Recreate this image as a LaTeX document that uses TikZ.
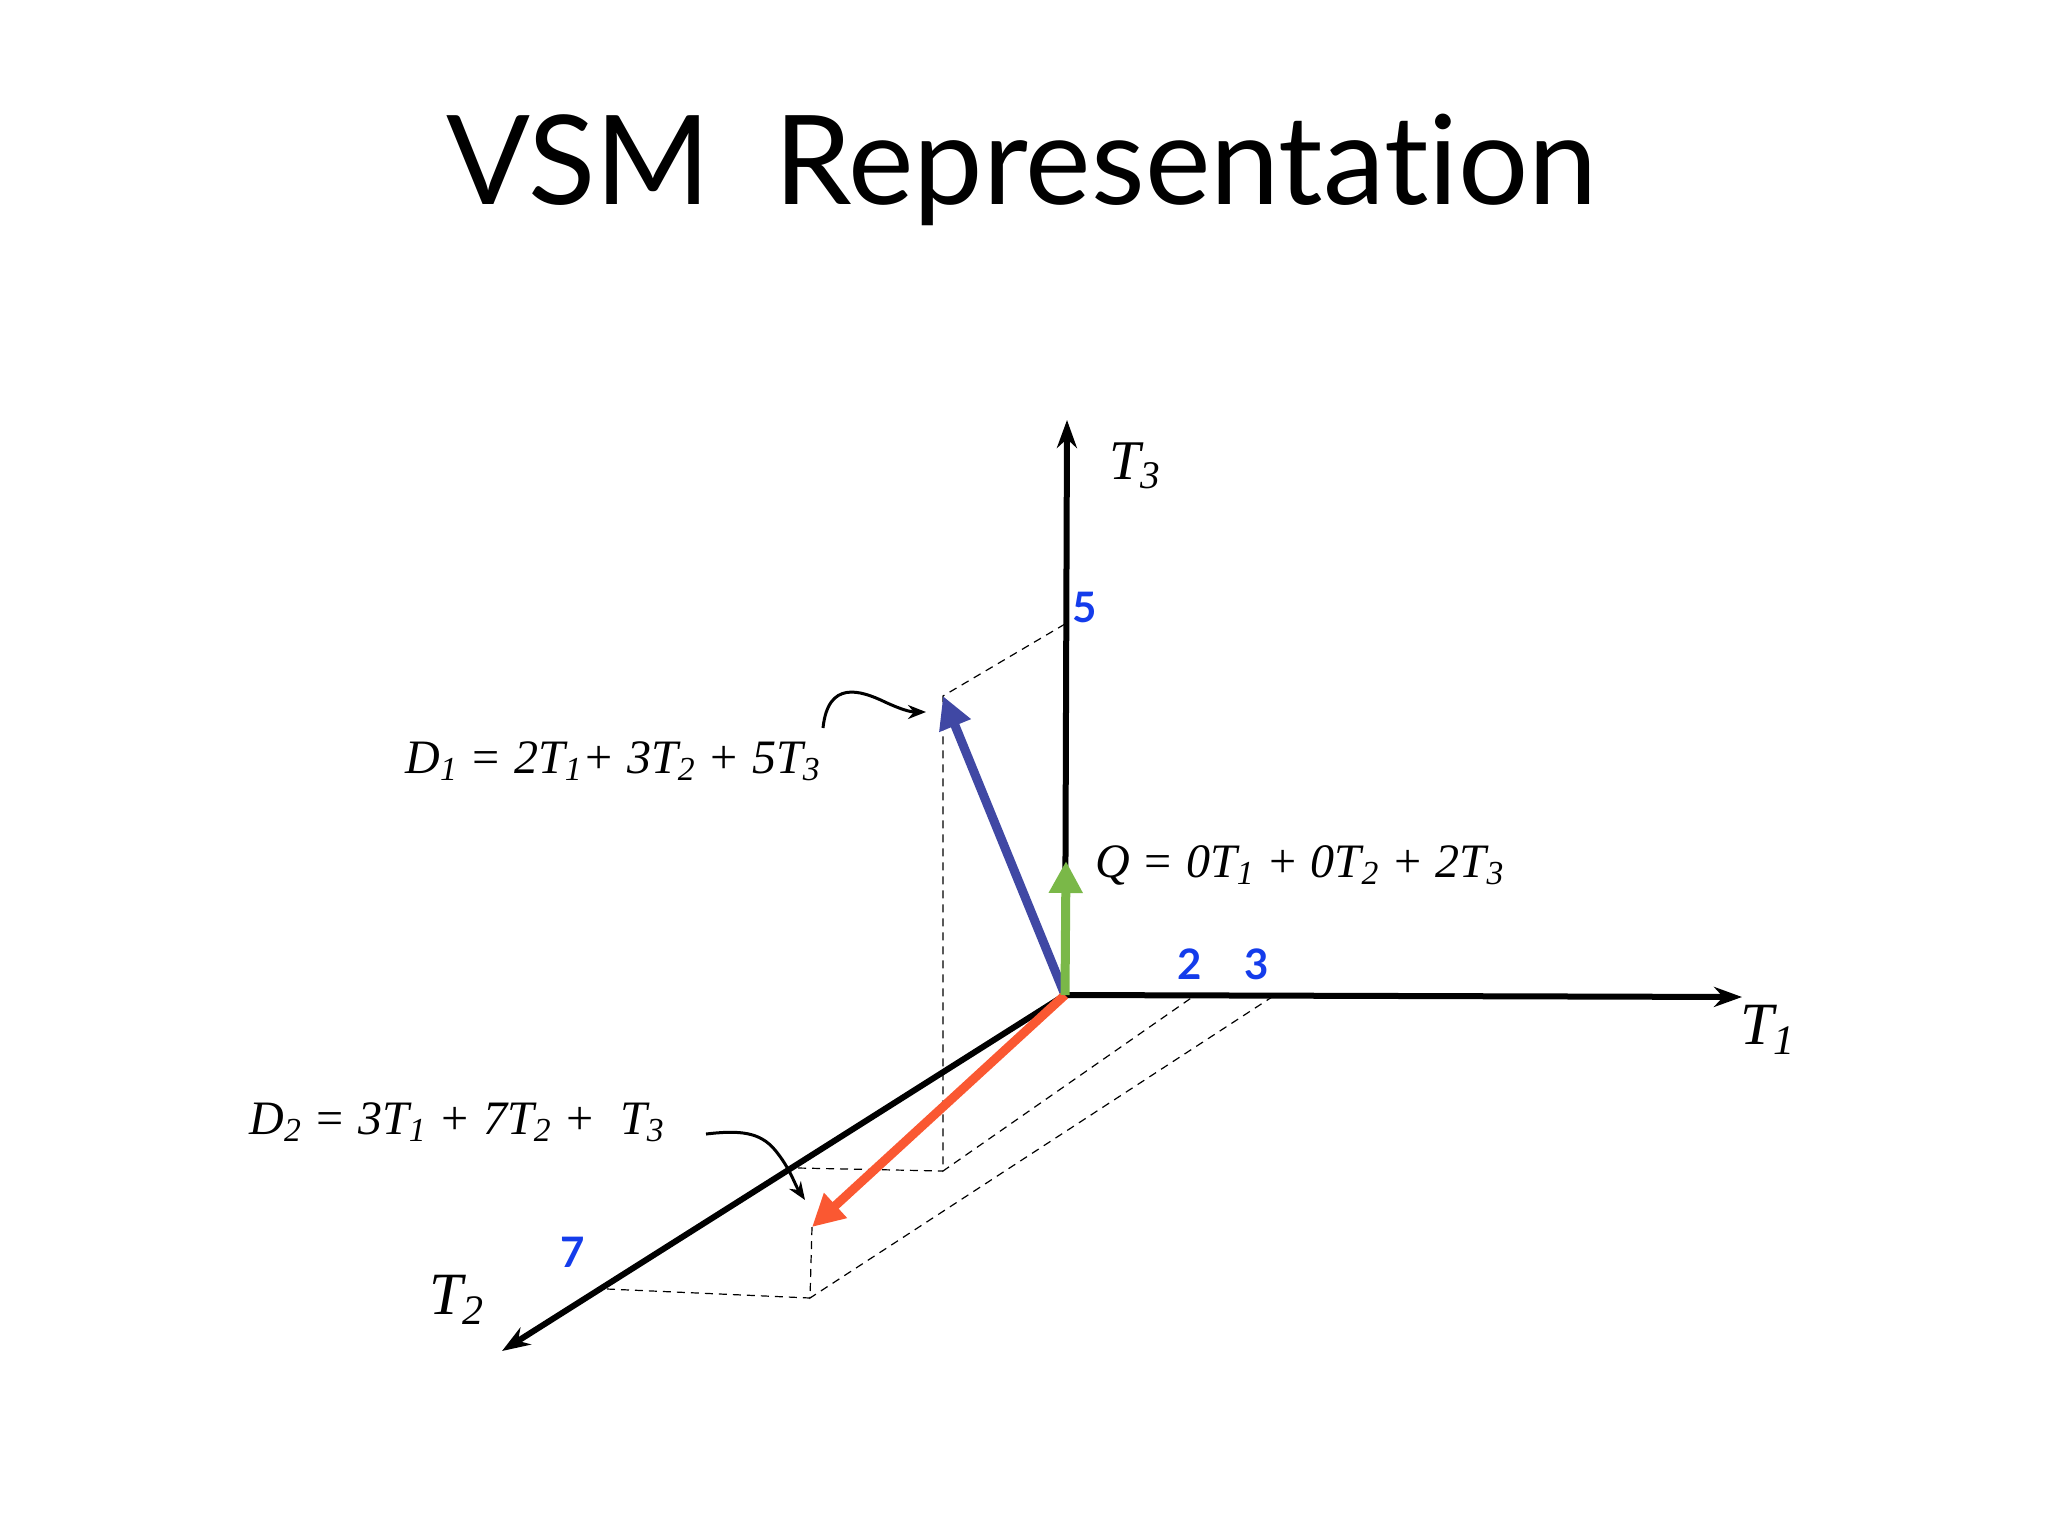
\documentclass[tikz,border=0pt]{standalone}
\usepackage{fontspec}
\setmainfont{Liberation Serif}
\newfontfamily\gill[Ligatures=NoCommon]{Lato}
\usetikzlibrary{arrows.meta}
\definecolor{vblue}{RGB}{64,72,164}
\definecolor{vgreen}{RGB}{122,184,72}
\definecolor{vorange}{RGB}{250,88,50}
\definecolor{nblue}{RGB}{20,60,235}
\tikzset{
  axis/.style={line width=3pt,-{Stealth[length=14pt,width=10pt]}},
  vec/.style={line width=4.5pt,-{Triangle[length=16pt,width=16pt]}},
  proj/.style={line width=0.6pt,dash pattern=on 4pt off 3pt},
  num/.style={font=\gill\bfseries\fontsize{21}{24}\selectfont,text=nblue},
  lab/.style={font=\itshape\fontsize{24}{28}\selectfont},
  curly/.style={line width=1.5pt,-{Stealth[length=9pt,width=7pt]}}
}
\begin{document}
\begin{tikzpicture}[x=0.5pt,y=-0.5pt]
\useasboundingbox (0,0) rectangle (2048,1536);
\node[font=\gill\fontsize{62}{66}\selectfont] (title) at (1022,170) {VSM\ \ Representation};
\coordinate (O) at (1065,995);
\coordinate (t3) at (1067,420);
\coordinate (t1) at (1742,997);
\coordinate (t2) at (502,1351);
\coordinate (p5) at (1065,624);
\coordinate (p2) at (1194,996);
\coordinate (p3) at (1272,997);
\coordinate (p7) at (607,1289);
\coordinate (d1) at (943,696);
\coordinate (d1b) at (943,1171);
\coordinate (d1c) at (798,1168);
\coordinate (q) at (1066,861);
\coordinate (d2) at (812,1227);
\coordinate (d2b) at (810,1298);
\draw[proj] (p5) -- (d1) -- (d1b) -- (p2);
\draw[proj] (d1c) -- (d1b);
\draw[proj] (d2) -- (d2b) -- (p3);
\draw[proj] (p7) -- (d2b);
\draw[axis] (O) -- (t3);
\draw[axis] (O) -- (t1);
\draw[axis] (O) -- (t2);
\draw[vec,vblue] (O) -- (d1);
\draw[vec,vorange] (O) -- (d2);
\draw[vec,vgreen] (O) -- (q);
\node[num] (n5) at (1085,607) {5};
\node[num] (n2) at (1190,964) {2};
\node[num] (n3) at (1257,964) {3};
\node[num] (n7) at (573,1252) {7};
\node[lab,font=\itshape\fontsize{28}{32}\selectfont] (T3) at (1135,466) {T\textsubscript{3}};
\node[lab,font=\itshape\fontsize{30}{34}\selectfont] (T1) at (1768,1030) {T\textsubscript{1}};
\node[lab,font=\itshape\fontsize{30}{34}\selectfont] (T2) at (457,1300) {T\textsubscript{2}};
\node[lab] (D1) at (613,761) {D\textsubscript{1} = 2T\textsubscript{1}+ 3T\textsubscript{2} + 5T\textsubscript{3}};
\node[lab,anchor=west] (Q) at (1088,865) {Q = 0T\textsubscript{1} + 0T\textsubscript{2} + 2T\textsubscript{3}};
\node[lab] (D2) at (457,1122) {D\textsubscript{2} = 3T\textsubscript{1} + 7T\textsubscript{2} +\ \ T\textsubscript{3}};
\coordinate (c1) at (823,728);
\coordinate (c1e) at (926,712);
\draw[curly] (c1) .. controls (828,680) and (860,690) .. (885,702) .. controls (900,709) and (910,712) .. (c1e);
\coordinate (c2) at (706,1134);
\coordinate (c2e) at (805,1200);
\draw[curly] (c2) .. controls (740,1130) and (760,1132) .. (775,1150) .. controls (790,1168) and (795,1185) .. (c2e);
\end{tikzpicture}
\end{document}
